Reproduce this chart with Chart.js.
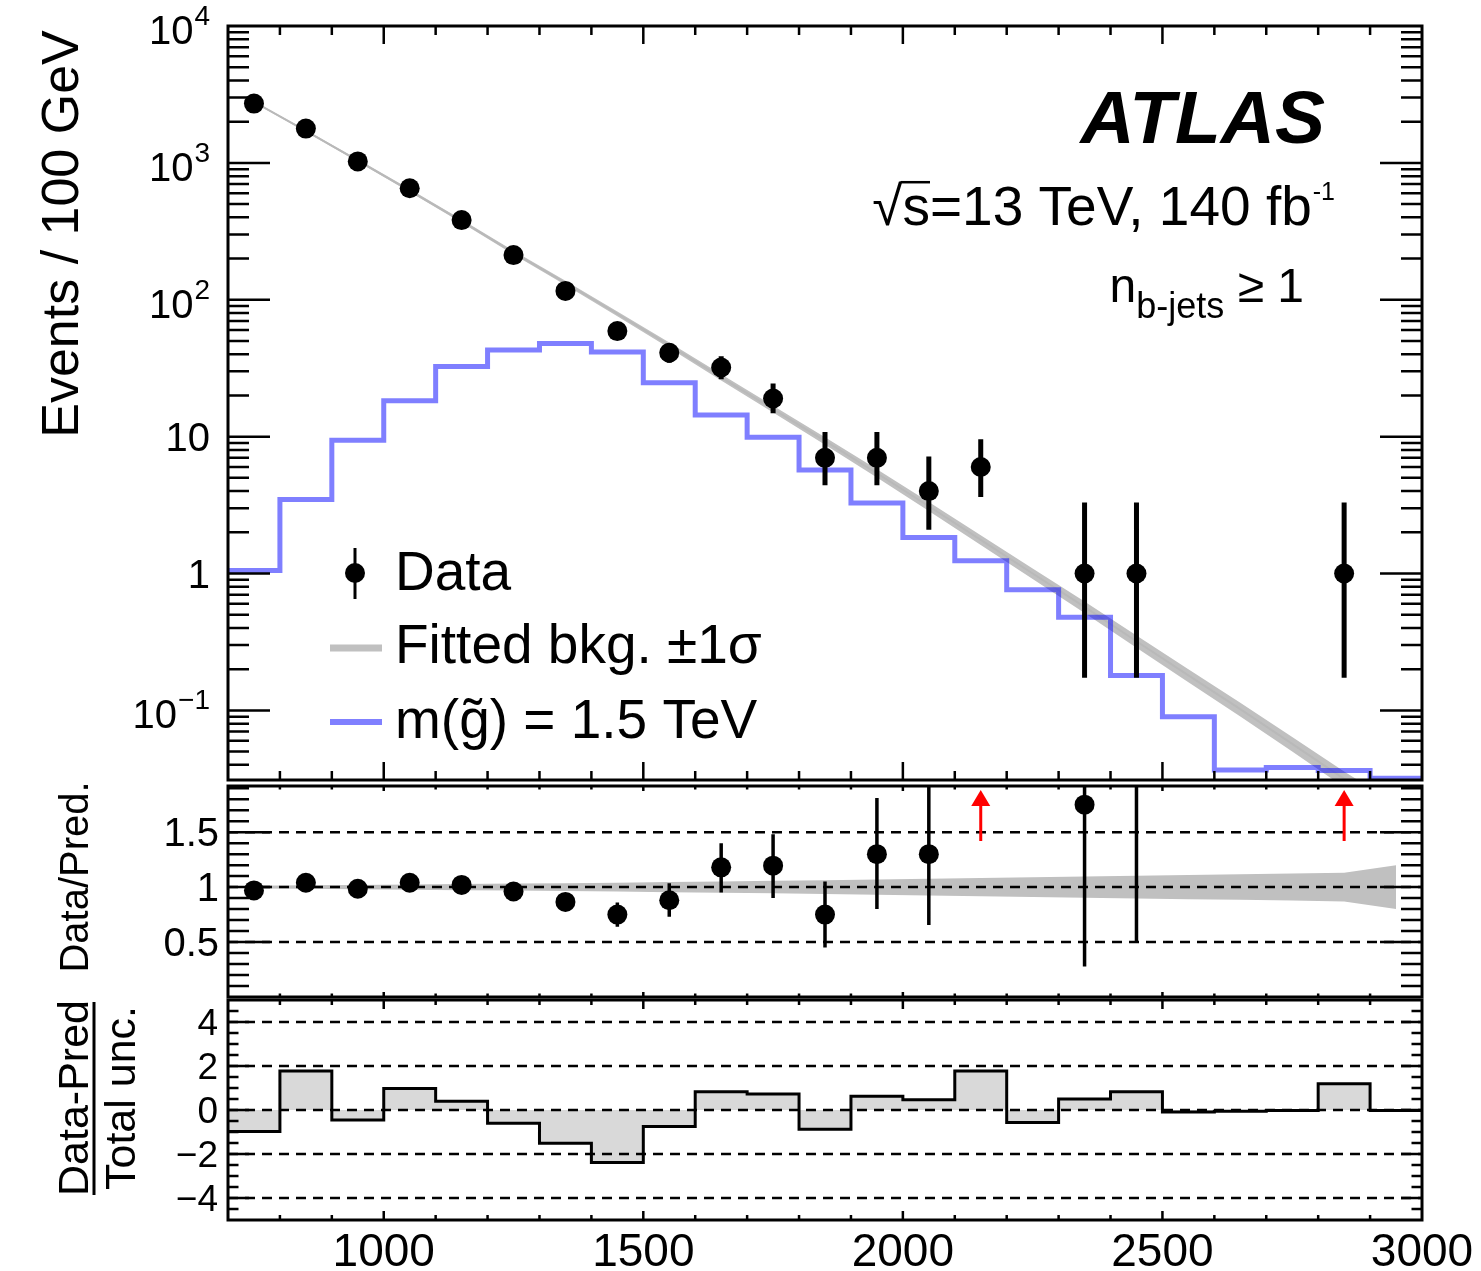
<!DOCTYPE html>
<html>
<head>
<meta charset="utf-8">
<script src="https://cdn.jsdelivr.net/npm/chart.js@4.4.1/dist/chart.umd.min.js"></script>
<style>
  html, body { margin: 0; padding: 0; background: #fff; }
  #wrap { position: relative; width: 1481px; height: 1271px; overflow: hidden; background: #fff; }
  #wrap canvas { position: absolute; left: 0; }
</style>
</head>
<body>
<div id="wrap">
  <canvas id="cMain" width="1481" height="790" style="top:0px"></canvas>
  <canvas id="cRatio" width="1481" height="231" style="top:776px"></canvas>
  <canvas id="cPull" width="1481" height="278" style="top:993px"></canvas>
</div>
<script>
// m_jj style spectrum, 100 GeV bins from 700 to 3000
const binLowEdges = [700, 800, 900, 1000, 1100, 1200, 1300, 1400, 1500, 1600, 1700, 1800,
  1900, 2000, 2100, 2200, 2300, 2400, 2500, 2600, 2700, 2800, 2900];
const binCenters = [750, 850, 950, 1050, 1150, 1250, 1350, 1450, 1550, 1650, 1750, 1850,
  1950, 2050, 2150, 2250, 2350, 2450, 2550, 2650, 2750, 2850, 2950];

// data points (bins with zero events are not drawn)
const dataX  = [750, 850, 950, 1050, 1150, 1250, 1350, 1450, 1550, 1650, 1750, 1850, 1950, 2050, 2150, 2350, 2450, 2850];
const dataY  = [2710, 1780, 1025, 653, 382, 212, 116, 59, 41, 32, 19, 7, 7, 4, 6, 1, 1, 1];
const dataLo = [2658, 1738, 993, 628, 363, 198, 106, 51.5, 34.7, 26.3, 14.8, 4.42, 4.42, 2.09, 3.62, 0.173, 0.173, 0.173];
const dataHi = [2762, 1822, 1057, 679, 402, 227, 127, 67, 48.2, 38.7, 24.4, 10.8, 10.8, 7.16, 9.58, 3.3, 3.3, 3.3];

// fitted background at bin centres and its relative uncertainty
const fitY = [2790, 1710, 1040, 628, 375, 221, 133, 79, 46.6, 27.1, 15.9, 9.3,
  5.4, 3.1, 1.76, 1.0, 0.57, 0.32, 0.18, 0.102, 0.057, 0.0316, 0.0174];
const fitRelUnc = [0.012, 0.016, 0.02, 0.024, 0.028, 0.032, 0.036, 0.04, 0.046, 0.052, 0.057, 0.063,
  0.07, 0.076, 0.083, 0.09, 0.096, 0.103, 0.11, 0.116, 0.123, 0.13, 0.2];

// signal m(gluino) = 1.5 TeV, per bin
const signalY = [1.05, 3.47, 9.4, 18.3, 32.5, 43, 47.9, 41.5, 24.8, 14.4, 9.9, 5.7,
  3.28, 1.83, 1.24, 0.76, 0.479, 0.18, 0.09, 0.0367, 0.0382, 0.0363, 0.0319];

// Data / Pred.
const ratioX  = [750, 850, 950, 1050, 1150, 1250, 1350, 1450, 1550, 1650, 1750, 1850, 1950, 2050, 2350, 2450];
const ratioY  = [0.97, 1.04, 0.985, 1.04, 1.02, 0.96, 0.865, 0.75, 0.88, 1.18, 1.195, 0.75, 1.30, 1.30, 1.75, 3.1];
const ratioLo = [0.95, 1.015, 0.955, 1.0, 0.97, 0.895, 0.79, 0.64, 0.73, 0.95, 0.90, 0.45, 0.80, 0.655, 0.277, 0.51];
const ratioHi = [0.99, 1.065, 1.015, 1.08, 1.07, 1.03, 0.945, 0.86, 1.035, 1.40, 1.48, 1.05, 1.81, 2.3, 5.8, 10.3];
const ratioArrowX = [2150, 2850];   // off-scale points
const ratioRefLines = [0.5, 1, 1.5];

// (Data-Pred)/Total unc. per bin
const pullY = [-0.98, 1.77, -0.45, 0.98, 0.40, -0.60, -1.51, -2.39, -0.75, 0.83, 0.73, -0.87,
  0.62, 0.47, 1.77, -0.57, 0.50, 0.83, -0.09, -0.06, -0.02, 1.19, -0.02];
const pullRefLines = [-4, -2, 0, 2, 4];

// tick labels
const mainYTicks = [0.1, 1, 10, 100, 1000, 10000];
const mainYLabels = [['10', '\u22121'], ['1', ''], ['10', ''], ['10', '2'], ['10', '3'], ['10', '4']];
const ratioYTicks = [0.5, 1, 1.5];
const ratioYLabels = ['0.5', '1', '1.5'];
const pullYTicks = [-4, -2, 0, 2, 4];
const pullYLabels = ['\u22124', '\u22122', '0', '2', '4'];
const xTicks = [1000, 1500, 2000, 2500, 3000];
const xLabels = ['1000', '1500', '2000', '2500', '3000'];

const FONT = '"Liberation Sans", Arial, Helvetica, sans-serif';
const X_MIN = 700, X_MAX = 3000;

// helpers to turn the arrays into chart points
function pts(xs, ys) {
  return xs.map((x, i) => ({x: x, y: ys[i]}));
}
function stepPoints(vals) {
  const p = binLowEdges.map((x, i) => ({x: x, y: vals[i]}));
  p.push({x: X_MAX, y: vals[vals.length - 1]});
  return p;
}
function barPoints(xs, lo, hi) {
  const p = [];
  xs.forEach((x, i) => {
    p.push({x: x, y: lo[i]}, {x: x, y: hi[i]}, {x: x, y: null});
  });
  return p;
}
function hline(v) {
  return [{x: X_MIN, y: v}, {x: X_MAX, y: v}];
}

function vtext(ctx, s, x, y, font) {
  ctx.save();
  ctx.translate(x, y);
  ctx.rotate(-Math.PI / 2);
  ctx.font = font;
  ctx.textAlign = 'center';
  ctx.textBaseline = 'alphabetic';
  ctx.fillText(s, 0, 0);
  ctx.restore();
}

// frame with inward ticks on all four sides (ROOT look)
function framePlugin(cfg) {
  return {
    id: 'frame',
    afterDraw(chart) {
      const {ctx, chartArea: a} = chart;
      const xs = chart.scales.x, ys = chart.scales.y;
      ctx.save();
      ctx.strokeStyle = '#000';
      ctx.lineWidth = 2.5;
      ctx.beginPath();
      for (let v = X_MIN + 100; v < X_MAX; v += 100) {
        const px = xs.getPixelForValue(v);
        const len = v % 500 === 0 ? cfg.xMaj : cfg.xMin;
        ctx.moveTo(px, a.top); ctx.lineTo(px, a.top + len);
        ctx.moveTo(px, a.bottom); ctx.lineTo(px, a.bottom - len);
      }
      cfg.yMinor.forEach(v => {
        const py = ys.getPixelForValue(v);
        ctx.moveTo(a.left, py); ctx.lineTo(a.left + cfg.yMin, py);
        ctx.moveTo(a.right, py); ctx.lineTo(a.right - cfg.yMin, py);
      });
      cfg.yMajor.forEach(v => {
        const py = ys.getPixelForValue(v);
        ctx.moveTo(a.left, py); ctx.lineTo(a.left + cfg.yMaj, py);
        ctx.moveTo(a.right, py); ctx.lineTo(a.right - cfg.yMaj, py);
      });
      ctx.stroke();
      ctx.lineWidth = 3;
      ctx.strokeRect(a.left, a.top, a.right - a.left, a.bottom - a.top);
      ctx.fillStyle = '#000';
      if (cfg.extra) cfg.extra(chart, ctx, a, xs, ys);
      ctx.restore();
    }
  };
}

function baseOptions(yScale, padTop, padBottom) {
  return {
    responsive: false,
    animation: false,
    events: [],
    layout: {padding: {left: 228, right: 59, top: padTop, bottom: padBottom}},
    scales: {
      x: {type: 'linear', min: X_MIN, max: X_MAX, display: false},
      y: Object.assign({display: false}, yScale)
    },
    plugins: {
      legend: {display: false},
      tooltip: {enabled: false},
      filler: {drawTime: 'beforeDatasetsDraw'}
    }
  };
}

const noLine = 'rgba(0,0,0,0)';

// ---------- main panel ----------
const logMinor = [];
for (let e = -2; e <= 3; e++) {
  for (let k = 2; k <= 9; k++) {
    const v = k * Math.pow(10, e);
    if (v > 0.031 && v < 10000) logMinor.push(v);
  }
}

new Chart(document.getElementById('cMain'), {
  type: 'line',
  data: {
    datasets: [
      {label: 'Data', data: pts(dataX, dataY), showLine: false, pointRadius: 10,
        pointBackgroundColor: '#000', pointBorderWidth: 0, order: 0, clip: 0},
      {label: 'Data err', data: barPoints(dataX, dataLo, dataHi), borderColor: '#000',
        borderWidth: 5, pointRadius: 0, spanGaps: false, order: 1, clip: 0},
      {label: 'm(g~) = 1.5 TeV', data: stepPoints(signalY), stepped: true,
        borderColor: 'rgba(0,0,255,0.5)', borderWidth: 5, pointRadius: 0, order: 2, clip: 0},
      {label: 'Fitted bkg.', data: pts(binCenters, fitY), borderColor: '#b9b9b9',
        borderWidth: 2, pointRadius: 0, order: 3, clip: 0},
      {label: 'fit lo', data: binCenters.map((x, i) => ({x: x, y: fitY[i] * (1 - fitRelUnc[i])})),
        borderColor: noLine, borderWidth: 0, pointRadius: 0, fill: false, order: 4, clip: 0},
      {label: 'fit hi', data: binCenters.map((x, i) => ({x: x, y: fitY[i] * (1 + fitRelUnc[i])})),
        borderColor: noLine, borderWidth: 0, pointRadius: 0, fill: 4,
        backgroundColor: '#c0c0c0', order: 5, clip: 0}
    ]
  },
  options: baseOptions({type: 'logarithmic', min: 0.031, max: 10000}, 26, 7),
  plugins: [framePlugin({
    xMaj: 18, xMin: 9, yMaj: 42, yMin: 21,
    yMajor: [0.1, 1, 10, 100, 1000], yMinor: logMinor,
    extra(chart, ctx, a, xs, ys) {
      // y tick labels with exponents
      ctx.textAlign = 'right';
      ctx.textBaseline = 'alphabetic';
      mainYTicks.forEach((v, i) => {
        const py = ys.getPixelForValue(v);
        const base = mainYLabels[i][0], sup = mainYLabels[i][1];
        if (sup) {
          ctx.font = `28px ${FONT}`;
          const sw = ctx.measureText(sup).width;
          ctx.fillText(sup, 210, py - 1);
          ctx.font = `40px ${FONT}`;
          ctx.fillText(base, 210 - sw - 1, py + 18);
        } else {
          ctx.font = `40px ${FONT}`;
          ctx.fillText(base, 210, py + 14.5);
        }
      });
      vtext(ctx, 'Events / 100 GeV', 78, 234, `52px ${FONT}`);

      // ATLAS label
      ctx.textAlign = 'right';
      ctx.font = `italic bold 75px ${FONT}`;
      ctx.fillText('ATLAS', 1325, 143);

      // sqrt(s) line
      ctx.textAlign = 'left';
      ctx.font = `25px ${FONT}`;
      const supW = ctx.measureText('-1').width;
      ctx.font = `55px ${FONT}`;
      const rootW = ctx.measureText('\u221A').width;
      const sW = ctx.measureText('s').width;
      const restW = ctx.measureText('=13 TeV, 140 fb').width;
      let x0 = 1335 - supW - 1 - restW - sW - rootW;
      const rootAsc = ctx.measureText('\u221A').actualBoundingBoxAscent;
      ctx.fillText('\u221A', x0, 225);
      ctx.fillText('s', x0 + rootW, 225);
      ctx.fillText('=13 TeV, 140 fb', x0 + rootW + sW, 225);
      ctx.font = `25px ${FONT}`;
      ctx.fillText('-1', x0 + rootW + sW + restW + 1, 200);
      ctx.lineWidth = 2.5;
      ctx.beginPath();
      ctx.moveTo(x0 + rootW - 2, 225 - rootAsc + 1.2);
      ctx.lineTo(x0 + rootW + sW, 225 - rootAsc + 1.2);
      ctx.stroke();

      // n_b-jets >= 1
      ctx.font = `48px ${FONT}`;
      const nW = ctx.measureText('n').width;
      const tailW = ctx.measureText(' \u2265 1').width;
      ctx.font = `36px ${FONT}`;
      const subW = ctx.measureText('b-jets').width;
      x0 = 1304 - tailW - subW - nW;
      ctx.font = `48px ${FONT}`;
      ctx.fillText('n', x0, 302);
      ctx.fillText(' \u2265 1', x0 + nW + subW, 302);
      ctx.font = `36px ${FONT}`;
      ctx.fillText('b-jets', x0 + nW, 318);

      // legend
      ctx.strokeStyle = '#000';
      ctx.lineWidth = 3;
      ctx.beginPath();
      ctx.moveTo(355, 548); ctx.lineTo(355, 599);
      ctx.stroke();
      ctx.beginPath();
      ctx.arc(355, 573, 10, 0, Math.PI * 2);
      ctx.fill();
      ctx.lineWidth = 7;
      ctx.strokeStyle = '#c0c0c0';
      ctx.beginPath(); ctx.moveTo(330, 648); ctx.lineTo(382, 648); ctx.stroke();
      ctx.lineWidth = 6;
      ctx.strokeStyle = '#8080ff';
      ctx.beginPath(); ctx.moveTo(330, 722); ctx.lineTo(382, 722); ctx.stroke();
      ctx.font = `55px ${FONT}`;
      ctx.fillText('Data', 395, 590);
      ctx.fillText('Fitted bkg. \u00B11\u03C3', 395, 663);
      ctx.fillText('m(g\u0303) = 1.5 TeV', 395, 738);
    }
  })]
});

// ---------- ratio panel ----------
const ratioMinor = [];
for (let i = 1; i <= 19; i++) ratioMinor.push(i / 10);

const ratioSets = [
  {label: 'ratio', data: pts(ratioX, ratioY), showLine: false, pointRadius: 10,
    pointBackgroundColor: '#000', pointBorderWidth: 0, order: 0, clip: 0},
  {label: 'ratio err', data: barPoints(ratioX, ratioLo, ratioHi), borderColor: '#000',
    borderWidth: 3.5, pointRadius: 0, spanGaps: false, order: 1, clip: 0}
];
ratioRefLines.forEach(v => ratioSets.push({label: 'ref', data: hline(v), borderColor: '#000',
  borderWidth: 2.5, borderDash: [10, 7], pointRadius: 0, order: 2, clip: 0}));
const bandLoIndex = ratioSets.length;
ratioSets.push({label: 'band lo', data: binCenters.map((x, i) => ({x: x, y: 1 - fitRelUnc[i]})),
  borderColor: noLine, borderWidth: 0, pointRadius: 0, fill: false, order: 4, clip: 0});
ratioSets.push({label: 'band hi', data: binCenters.map((x, i) => ({x: x, y: 1 + fitRelUnc[i]})),
  borderColor: noLine, borderWidth: 0, pointRadius: 0, fill: bandLoIndex,
  backgroundColor: '#c0c0c0', order: 5, clip: 0});

new Chart(document.getElementById('cRatio'), {
  type: 'line',
  data: {datasets: ratioSets},
  options: baseOptions({type: 'linear', min: 0, max: 1.92}, 7, 7),
  plugins: [framePlugin({
    xMaj: 5, xMin: 3.5, yMaj: 42, yMin: 21,
    yMajor: ratioYTicks, yMinor: ratioMinor,
    extra(chart, ctx, a, xs, ys) {
      ctx.textAlign = 'right';
      ctx.font = `40px ${FONT}`;
      ratioYTicks.forEach((v, i) => {
        ctx.fillText(ratioYLabels[i], 219, ys.getPixelForValue(v) + 14);
      });
      vtext(ctx, 'Data/Pred.', 88, 101, `40px ${FONT}`);
      // arrows for points above the range
      ctx.strokeStyle = '#ff0000';
      ctx.fillStyle = '#ff0000';
      ctx.lineWidth = 3;
      ratioArrowX.forEach(v => {
        const px = xs.getPixelForValue(v);
        ctx.beginPath();
        ctx.moveTo(px, a.top + 55); ctx.lineTo(px, a.top + 18);
        ctx.stroke();
        ctx.beginPath();
        ctx.moveTo(px, a.top + 4);
        ctx.lineTo(px - 9.5, a.top + 20);
        ctx.lineTo(px + 9.5, a.top + 20);
        ctx.closePath();
        ctx.fill();
      });
    }
  })]
});

// ---------- significance panel ----------
const pullMinor = [];
for (let v = -4.5; v <= 4.5; v += 0.5) pullMinor.push(v);

const pullSets = [
  {label: 'pull', data: stepPoints(pullY), stepped: true, borderColor: '#000', borderWidth: 3,
    pointRadius: 0, fill: 'origin', backgroundColor: '#d9d9d9', order: 0, clip: 0}
];
pullRefLines.forEach(v => pullSets.push({label: 'ref', data: hline(v), borderColor: '#000',
  borderWidth: 2.5, borderDash: [10, 7], pointRadius: 0, order: 1, clip: 0}));

new Chart(document.getElementById('cPull'), {
  type: 'line',
  data: {datasets: pullSets},
  options: baseOptions({type: 'linear', min: -5, max: 5}, 7, 51),
  plugins: [framePlugin({
    xMaj: 9, xMin: 5, yMaj: 21, yMin: 10.5,
    yMajor: pullYTicks, yMinor: pullMinor,
    extra(chart, ctx, a, xs, ys) {
      ctx.textAlign = 'right';
      ctx.font = `37px ${FONT}`;
      pullYTicks.forEach((v, i) => {
        ctx.fillText(pullYLabels[i], 218, ys.getPixelForValue(v) + 13);
      });
      ctx.textAlign = 'center';
      ctx.font = `46px ${FONT}`;
      xTicks.forEach((v, i) => {
        ctx.fillText(xLabels[i], xs.getPixelForValue(v), 273);
      });
      vtext(ctx, 'Data-Pred', 88, 105, `43px ${FONT}`);
      vtext(ctx, 'Total unc.', 135, 105, `43px ${FONT}`);
      ctx.lineWidth = 3;
      ctx.strokeStyle = '#000';
      ctx.beginPath();
      ctx.moveTo(94, 9); ctx.lineTo(94, 202);
      ctx.stroke();
    }
  })]
});
</script>
</body>
</html>
